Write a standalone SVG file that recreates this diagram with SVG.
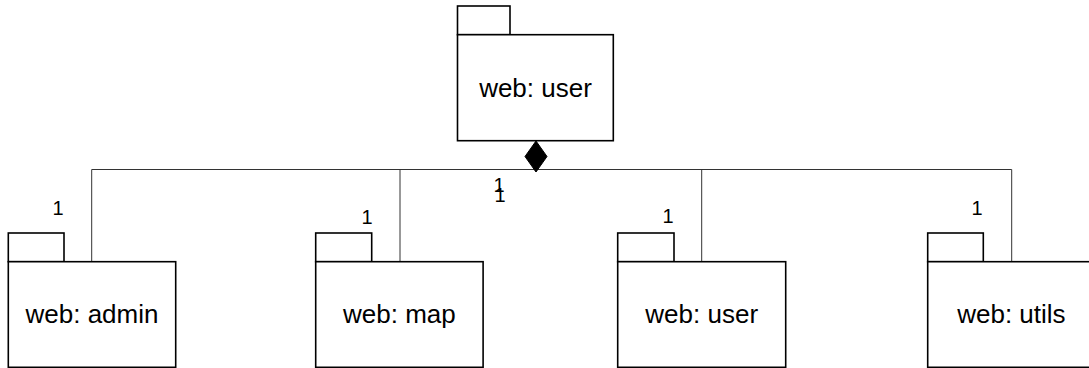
<svg xmlns="http://www.w3.org/2000/svg" width="1089" height="368" viewBox="0 0 1089 368">
<style>
.box{fill:#fff;stroke:#000;stroke-width:1.6}
.conn{fill:none;stroke:#333;stroke-width:1}
.name{font-family:"Liberation Sans",Arial,sans-serif;font-size:26px;fill:#000;text-anchor:middle}
.mult{font-family:"Liberation Sans",Arial,sans-serif;font-size:20px;fill:#000;text-anchor:middle}
</style>
<rect width="1089" height="368" fill="#fff"/>
<g id="connectors">
<path class="conn" d="M91.7 169.5 H1011.7 M91.7 169.5 V261.7 M400 169.5 V261.7 M701.7 169.5 V261.7 M1011.7 169.5 V261.7"/>
<polygon points="536,141 547,156.5 536,172 525,156.5" fill="#000" stroke="#000" stroke-width="1"/>
<text class="mult" x="499" y="192">1</text>
<text class="mult" x="500" y="201.5">1</text>
<text class="mult" x="58" y="215">1</text>
<text class="mult" x="367" y="223.5">1</text>
<text class="mult" x="668" y="223">1</text>
<text class="mult" x="977" y="215">1</text>
</g>
<g id="node-top-user">
<rect class="box" x="457.5" y="6" width="52.5" height="28.7"/>
<rect class="box" x="457.5" y="34.7" width="155.8" height="106"/>
<text class="name" x="535.5" y="96.7">web: user</text>
</g>
<g id="node-admin">
<rect class="box" x="8.3" y="233" width="55.7" height="28.7"/>
<rect class="box" x="8.3" y="261.7" width="167.4" height="105.6"/>
<text class="name" x="92" y="323.3">web: admin</text>
</g>
<g id="node-map">
<rect class="box" x="315.7" y="233" width="56" height="28.7"/>
<rect class="box" x="315.7" y="261.7" width="167.4" height="105.6"/>
<text class="name" x="399.4" y="323.3">web: map</text>
</g>
<g id="node-user">
<rect class="box" x="617.7" y="233" width="56.3" height="28.7"/>
<rect class="box" x="617.7" y="261.7" width="168" height="105.6"/>
<text class="name" x="701.7" y="323.3">web: user</text>
</g>
<g id="node-utils">
<rect class="box" x="927.7" y="233" width="55.6" height="28.7"/>
<rect class="box" x="927.7" y="261.7" width="167.4" height="105.6"/>
<text class="name" x="1011.4" y="323.3">web: utils</text>
</g>
</svg>
